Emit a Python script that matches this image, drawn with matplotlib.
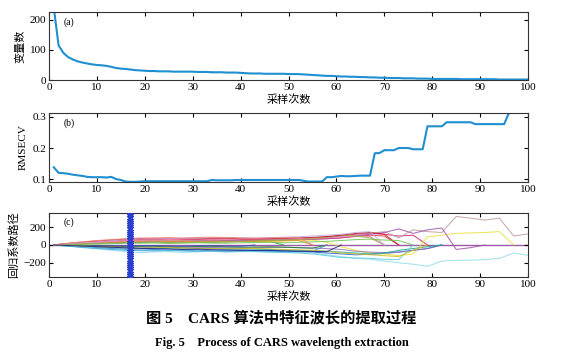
import numpy as np
import matplotlib
matplotlib.use('Agg')
import matplotlib.pyplot as plt

plt.rcParams['font.family'] = ['Liberation Serif', 'Noto Sans CJK SC']
plt.rcParams['font.size'] = 8

# sampling runs
runs = np.arange(1, 101)

# (a) number of retained variables
n_vars = [240, 115, 90, 76, 68, 62, 58, 55, 52, 50,
          49, 47, 44, 40, 38, 37, 35, 33, 32, 31,
          30, 30, 29, 29, 29, 28, 28, 28, 28, 28,
          27, 27, 27, 26, 26, 26, 25, 25, 25, 24,
          23, 22, 22, 22, 21, 21, 21, 21, 21, 20,
          20, 20, 19, 18, 17, 16, 15, 14, 14, 13,
          12, 12, 11, 11, 10, 10, 9, 9, 8, 8,
          7, 7, 7, 6, 6, 6, 5, 5, 5, 4,
          4, 4, 4, 4, 4, 3, 3, 3, 3, 3,
          3, 3, 3, 2, 2, 2, 2, 2, 2, 2]

# (b) RMSECV
rmsecv = [0.138, 0.120, 0.119, 0.117, 0.114, 0.112, 0.110, 0.107, 0.106, 0.106,
          0.106, 0.105, 0.107, 0.100, 0.097, 0.092, 0.091, 0.091, 0.092, 0.093,
          0.093, 0.093, 0.093, 0.093, 0.093, 0.093, 0.093, 0.093, 0.093, 0.093,
          0.093, 0.093, 0.093, 0.097, 0.096, 0.096, 0.096, 0.096, 0.097, 0.097,
          0.097, 0.097, 0.097, 0.097, 0.097, 0.097, 0.097, 0.097, 0.097, 0.097,
          0.097, 0.097, 0.095, 0.092, 0.092, 0.092, 0.092, 0.106, 0.106, 0.108,
          0.110, 0.109, 0.109, 0.110, 0.111, 0.111, 0.111, 0.183, 0.184, 0.193,
          0.193, 0.193, 0.200, 0.200, 0.200, 0.196, 0.196, 0.196, 0.270, 0.270,
          0.270, 0.270, 0.283, 0.283, 0.283, 0.283, 0.283, 0.283, 0.277, 0.277,
          0.277, 0.277, 0.277, 0.277, 0.277, 0.313, 0.313, 0.313, 0.313, 0.313]

# (c) regression coefficient paths, read every 3 runs (1, 4, 7, ...)
path_runs = np.arange(1, 101, 3)
paths = [
    ('#e8303a', [0, 15, 28, 38, 45, 55, 62, 58, 65, 60, 57, 63, 55, 60, 66, 60, 55, 58, 65, 70, 80, 95, 110, 100, 0]),
    ('#d0206f', [0, 12, 25, 35, 42, 50, 55, 50, 52, 56, 55, 48, 50, 54, 55, 58, 60, 62, 70, 85, 100, 120, 130, 120, 100, 110, 0]),
    ('#2060d8', [0, -10, -20, -30, -40, -50, -58, -52, -60, -62, -55, -66, -58, -62, -68, -62, -70, -75, -80, -90, -100, -110, -105, -95, -80, -60, -40, 0]),
    ('#30a040', [0, 8, 15, 22, 25, 30, 26, 34, 30, 37, 32, 30, 36, 40, 35, 40, 0]),
    ('#90dcec', [0, -15, -30, -45, -60, -75, -85, -78, -75, -84, -78, -72, -82, -75, -70, -78, -82, -85, -90, -110, -130, -150, -160, -180, -200, -215, -240, -180, -172, -170, -165, -150, -90, -115]),
    ('#e8e040', [0, 5, 10, 20, 28, 35, 42, 36, 45, 40, 42, 46, 48, 42, 40, 38, 45, 50, 55, 30, -20, -60, -90, -100, -120, -100, 90, 110, 130, 135, 140, 150, 0]),
    ('#c09a9a', [0, 10, 20, 25, 30, 38, 45, 50, 48, 45, 50, 52, 57, 50, 55, 60, 62, 65, 75, 90, 100, 110, 130, 150, 80, 170, 150, 140, 320, 300, 280, 300, 100, 125]),
    ('#9070b0', [0, -5, -10, -15, -20, -25, -32, -26, -25, -32, -30, -28, -32, -35, -30, -28, -25, -30, -35, -40, -50, -70, -80, -85, -80, -60, -40, 0]),
    ('#a050a8', [0, 6, 14, 20, 26, 30, 34, 37, 36, 40, 42, 44, 47, 46, 50, 52, 55, 60, 65, 70, 80, 100, 120, 140, 180, 130, 170, 190, -50, -30, 0]),
    ('#20a0a0', [0, -8, -15, -22, -28, -35, -42, -36, -42, -46, -40, -38, -44, -45, -48, -50, -55, -60, -65, -70, -80, -90, -100, -90, -60, -40, -20, 0]),
    ('#f09030', [0, 10, 18, 25, 32, 40, 44, 45, 38, 42, 36, 40, 35, 39, 42, 45, 48, 52, 0]),
    ('#f080b0', [0, 12, 22, 30, 40, 48, 54, 55, 60, 62, 66, 60, 63, 65, 68, 70, 72, 68, 75, 80, 90, 100, 95, 0]),
    ('#207a30', [0, -5, -8, -12, -15, -20, -16, -15, -21, -22, -17, -15, -21, -25, -22, -20, -25, -30, -35, 0]),
    ('#4090d0', [0, -12, -25, -38, -48, -58, -64, -66, -60, -63, -70, -65, -72, -72, -68, -72, -75, -72, -70, 0]),
    ('#a0b040', [0, 6, 12, 18, 22, 28, 31, 35, 30, 28, 31, 32, 36, 40, 45, 50, 55, 60, 70, 90, 110, 100, 80, 0]),
    ('#c01828', [0, 18, 32, 45, 55, 65, 72, 70, 76, 70, 68, 74, 75, 70, 68, 72, 75, 80, 85, 95, 110, 130, 140, 120, 0]),
    ('#c8a8e0', [0, 14, 26, 35, 48, 58, 68, 70, 72, 75, 78, 82, 85, 80, 78, 82, 88, 92, 100, 110, 120, 140, 150, 0]),
    ('#60c8e0', [0, -10, -22, -35, -45, -55, -62, -58, -64, -66, -72, -68, -65, -72, -75, -80, -85, -90, -100, -120, -140, -145, -150, -160, -165, 0]),
    ('#3050b0', [0, -3, -5, -8, -10, -12, -9, -8, -13, -15, -10, -8, -12, -15, 0]),
    ('#70c050', [0, 3, 8, 10, 15, 18, 21, 22, 17, 20, 25, 21, 20, 25, 28, 30, 25, 30, 35, 40, 50, 60, 65, 55, 50, 0]),
    ('#d0c020', [0, -4, -10, -18, -22, -30, -36, -32, -30, -36, -38, -40, -43, -40, -38, -45, -50, -55, -60, -70, -90, -100, -110, -120, -130, -60, 0]),
    ('#f08070', [0, 20, 35, 50, 60, 70, 78, 80, 82, 78, 84, 88, 82, 80, 76, 80, 82, 85, 0]),
    ('#202090', [0, -6, -12, -18, -25, -32, -38, -41, -45, -50, -47, -52, -56, -58, -62, -60, -65, -70, -72, -75, 0]),
]
best_run = 17

fig = plt.figure(figsize=(5.63, 3.53), dpi=100)
ax_a = fig.add_axes([0.087, 0.773, 0.851, 0.193])
ax_b = fig.add_axes([0.087, 0.484, 0.851, 0.196])
ax_c = fig.add_axes([0.087, 0.215, 0.851, 0.182])

line_color = '#1f8fd0'
ax_a.plot(runs, n_vars, color=line_color, lw=1.5)
ax_a.set_ylim(0, 225)
ax_a.set_yticks([0, 100, 200])
ax_a.set_ylabel('变量数')

ax_b.plot(runs, rmsecv, color=line_color, lw=1.5)
ax_b.set_ylim(0.09, 0.313)
ax_b.set_yticks([0.1, 0.2, 0.3])
ax_b.set_ylabel('RMSECV')

ax_c.axhline(0, color='#9a5aa8', lw=1.0, zorder=1)
for col, vals in paths:
    ax_c.plot(path_runs[:len(vals)], vals, color=col, lw=0.75, alpha=0.85)
ax_c.plot([best_run] * 30, np.linspace(-360, 360, 30), '-*', color='#2a3fd0',
          lw=2.2, ms=4, zorder=5)
ax_c.set_ylim(-360, 360)
ax_c.set_yticks([-200, 0, 200])
ax_c.set_ylabel('回归系数路径')

for ax, lbl in zip([ax_a, ax_b, ax_c], ['(a)', '(b)', '(c)']):
    ax.set_xlim(0, 100)
    ax.set_xticks(range(0, 101, 10))
    ax.set_xlabel('采样次数', labelpad=2)
    ax.tick_params(direction='in', top=True, right=True, length=3, width=0.8, pad=2)
    ax.text(0.03, 0.82, lbl, transform=ax.transAxes, fontsize=7)
    for s in ax.spines.values():
        s.set_linewidth(0.8)
        s.set_color('#333333')
    ax.yaxis.labelpad = 3

fig.text(0.5, 0.1, '图 5　CARS 算法中特征波长的提取过程', ha='center', va='center',
         fontsize=11, fontweight='bold')
fig.text(0.5, 0.028, 'Fig. 5　Process of CARS wavelength extraction', ha='center',
         va='center', fontsize=9, fontweight='bold')

fig.savefig('out.png', dpi=100)
